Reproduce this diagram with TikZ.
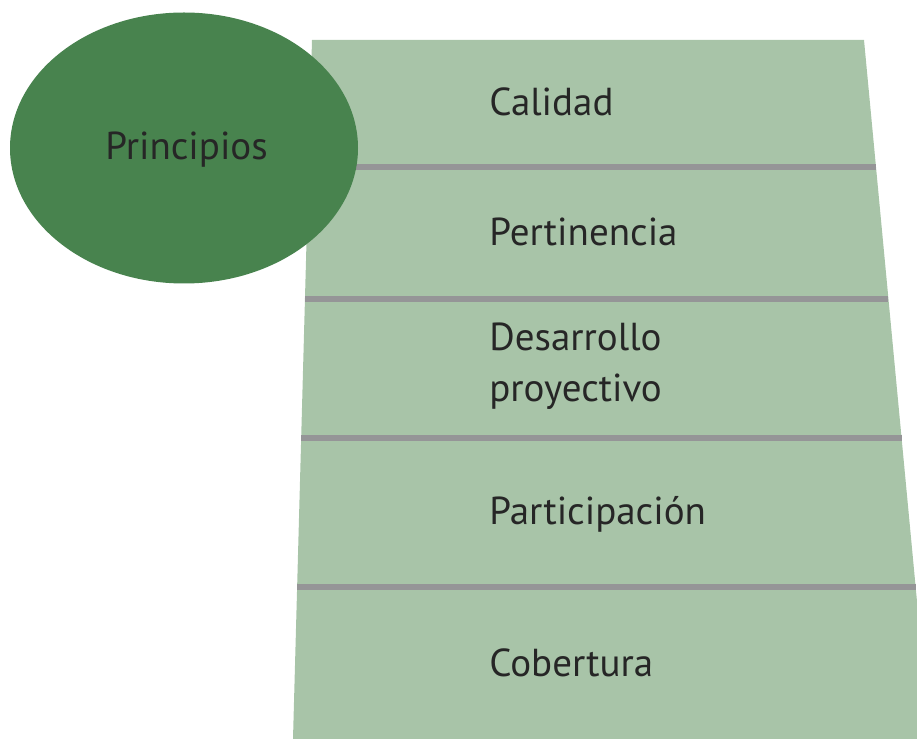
\documentclass[tikz,border=0pt]{standalone}
\usepackage{fontspec}
\setmainfont{PT Sans}
\usetikzlibrary{calc}
\usetikzlibrary{shapes.geometric}
\definecolor{band green}{HTML}{A8C4A8}
\definecolor{dark green}{HTML}{48834E}
\definecolor{rule gray}{HTML}{959597}
\tikzstyle{band}=[fill=band green, draw=none]
\tikzstyle{band rule}=[draw=rule gray, line width=2.9pt]
\tikzstyle{band label}=[anchor=base west, inner sep=0pt, text=black!85, font=\fontsize{22.2}{29.5}\selectfont]
\tikzstyle{principle oval}=[ellipse, fill=dark green, minimum width=348*0.02cm, minimum height=271*0.02cm, inner sep=0pt]

\begin{document}
\begin{tikzpicture}[x=0.02cm, y=-0.02cm]
      \useasboundingbox (0, 0) rectangle (917, 739);
      \coordinate (top left) at (312, 40);
      \coordinate (top right) at (864, 40);
      \coordinate (bottom left) at (293, 739);
      \coordinate (bottom right) at (930, 739);
      \fill[band] (top left) -- (top right) -- (bottom right) -- (bottom left) -- cycle;
      \foreach \t in {0.1817, 0.3705, 0.5694, 0.7825}
        \draw[band rule] ($(top left)!\t!(bottom left)$) -- ($(top right)!\t!(bottom right)$);
      \node[principle oval] (principios) at (184, 148) {};
      \node[band label] (principios label) at (105, 160) {Principios};
      \node[band label] (calidad) at (489, 116) {Calidad};
      \node[band label] (pertinencia) at (489, 246) {Pertinencia};
      % base of a two-line node sits on its last line
      \node[band label, align=left] (desarrollo) at (489, 402) {Desarrollo\\proyectivo};
      \node[band label] (participacion) at (489, 525) {Participación};
      \node[band label] (cobertura) at (489, 677) {Cobertura};
    \end{tikzpicture}
\end{document}
